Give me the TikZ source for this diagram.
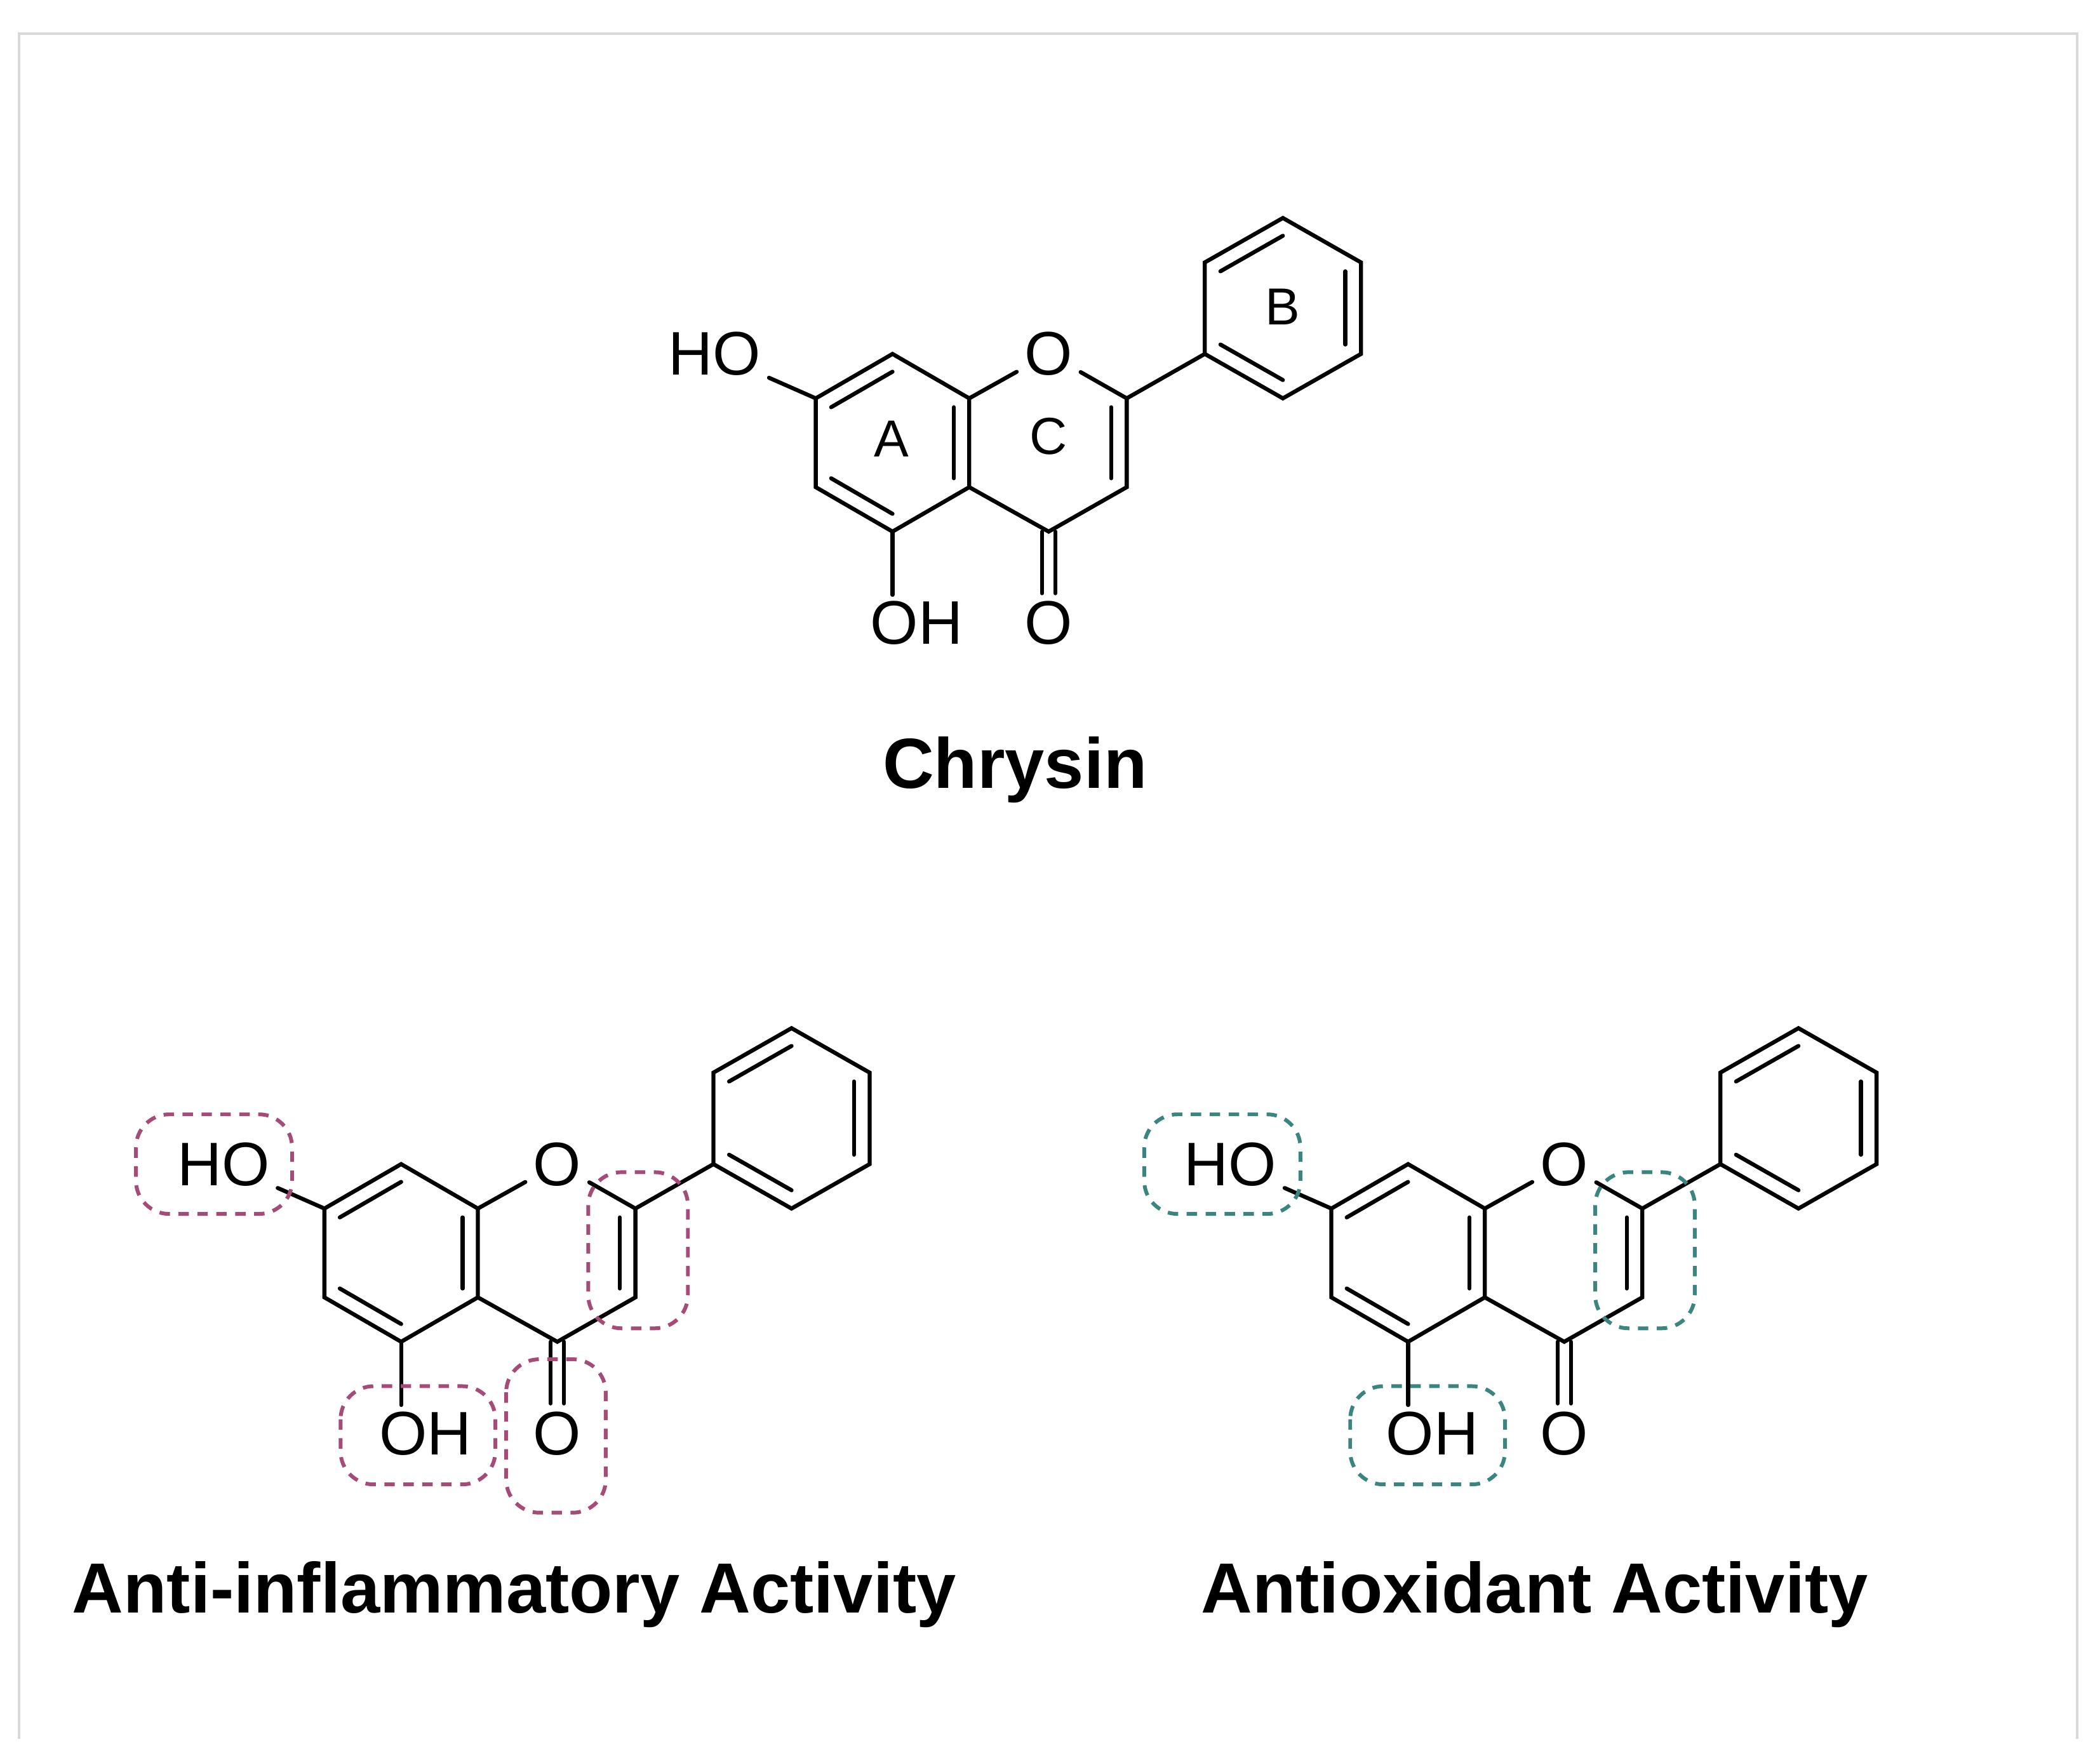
\documentclass[tikz,border=0pt]{standalone}
\usepackage{fontspec}
\setmainfont{Liberation Sans}
\usetikzlibrary{calc}
\definecolor{mag}{HTML}{A64B78}
\definecolor{teal2}{HTML}{3A857F}
\tikzset{
  bond/.style={line width=0.85pt,line cap=round},
  atom/.style={inner sep=1.5pt,font=\fontsize{13}{13}\selectfont},
  ringlbl/.style={font=\fontsize{11}{11}\selectfont},
  title/.style={font=\fontsize{15}{15}\selectfont\bfseries},
  hl/.style={dashed,line width=0.8pt,rounded corners=7pt,dash pattern=on 2.2pt off 1.8pt},
  frame/.style={draw=black!15,line width=0.5pt}
}
\newcommand{\flavone}[2]{%
 \begin{scope}[shift={(#1)}]
  \coordinate (#2a1) at (663,263); \coordinate (#2a2) at (720,296);
  \coordinate (#2a3) at (720,362); \coordinate (#2a4) at (663,395);
  \coordinate (#2a5) at (606,362); \coordinate (#2a6) at (606,296);
  \coordinate (#2ca) at (663,329); \coordinate (#2cc) at (779,329);
  \coordinate (#2c2) at (837,296); \coordinate (#2c3) at (837,362);
  \coordinate (#2c4) at (779,395);
  \coordinate (#2b1) at (895,263); \coordinate (#2b2) at (895,195);
  \coordinate (#2b3) at (953,162); \coordinate (#2b4) at (1011,195);
  \coordinate (#2b5) at (1011,263); \coordinate (#2b6) at (953,296);
  \coordinate (#2cb) at (953,228);
  \coordinate (#2ohe) at (663,442);
  \node[atom] (#2O) at (779,263) {O};
  \node[atom] (#2HO) at (531,263) {HO};
  \node[atom] (#2OH) at (681,463) {OH};
  \node[atom] (#2Ok) at (779,463) {O};
  \draw[bond] (#2a1)--(#2a2)--(#2a3)--(#2a4)--(#2a5)--(#2a6)--cycle;
  \draw[bond] (#2a2)--(#2O)--(#2c2)--(#2c3)--(#2c4)--(#2a3);
  \draw[bond] (#2c2)--(#2b1);
  \draw[bond] (#2b1)--(#2b2)--(#2b3)--(#2b4)--(#2b5)--(#2b6)--cycle;
  \draw[bond] (#2a6)--(#2HO);
  \draw[bond] (#2a4)--(#2ohe);
  \draw[bond] ([xshift=-1.4pt]#2c4)--([xshift=-1.4pt]#2Ok.north);
  \draw[bond] ([xshift=1.4pt]#2c4)--([xshift=1.4pt]#2Ok.north);
  \foreach \p/\q/\c in {a6/a1/ca,a5/a4/ca,a2/a3/ca,c2/c3/cc,b2/b3/cb,b4/b5/cb,b6/b1/cb}
    \draw[bond] ($(#2\c)!0.8!(#2\p)$)--($(#2\c)!0.8!(#2\q)$);
 \end{scope}}
\begin{document}
\begin{tikzpicture}[x=0.01cm,y=-0.01cm]
\useasboundingbox (0,0) rectangle (1560,1310);
\draw[frame] (14,1292)--(14,25)--(1543,25)--(1543,1292);
\flavone{0,0}{t}
\node[ringlbl] (lA) at (662,326) {A};
\node[ringlbl] (lC) at (779,324) {C};
\node[ringlbl] (lB) at (953,228) {B};
\node[title] (t1) at (754,572) {Chrysin};
\flavone{-365,602}{l}
\flavone{383,602}{r}
\node[title] (t2) at (382,1185) {Anti-inflammatory Activity};
\node[title] (t3) at (1140,1185) {Antioxidant Activity};
\draw[hl,draw=mag] (101,828) rectangle (217,902);
\draw[hl,draw=mag] (253,1030) rectangle (368,1103);
\draw[hl,draw=mag] (376,1010) rectangle (450,1124);
\draw[hl,draw=mag] (437,871) rectangle (511,987);
\draw[hl,draw=teal2] (850,828) rectangle (966,902);
\draw[hl,draw=teal2] (1003,1030) rectangle (1118,1103);
\draw[hl,draw=teal2] (1185,871) rectangle (1259,987);
\end{tikzpicture}
\end{document}
